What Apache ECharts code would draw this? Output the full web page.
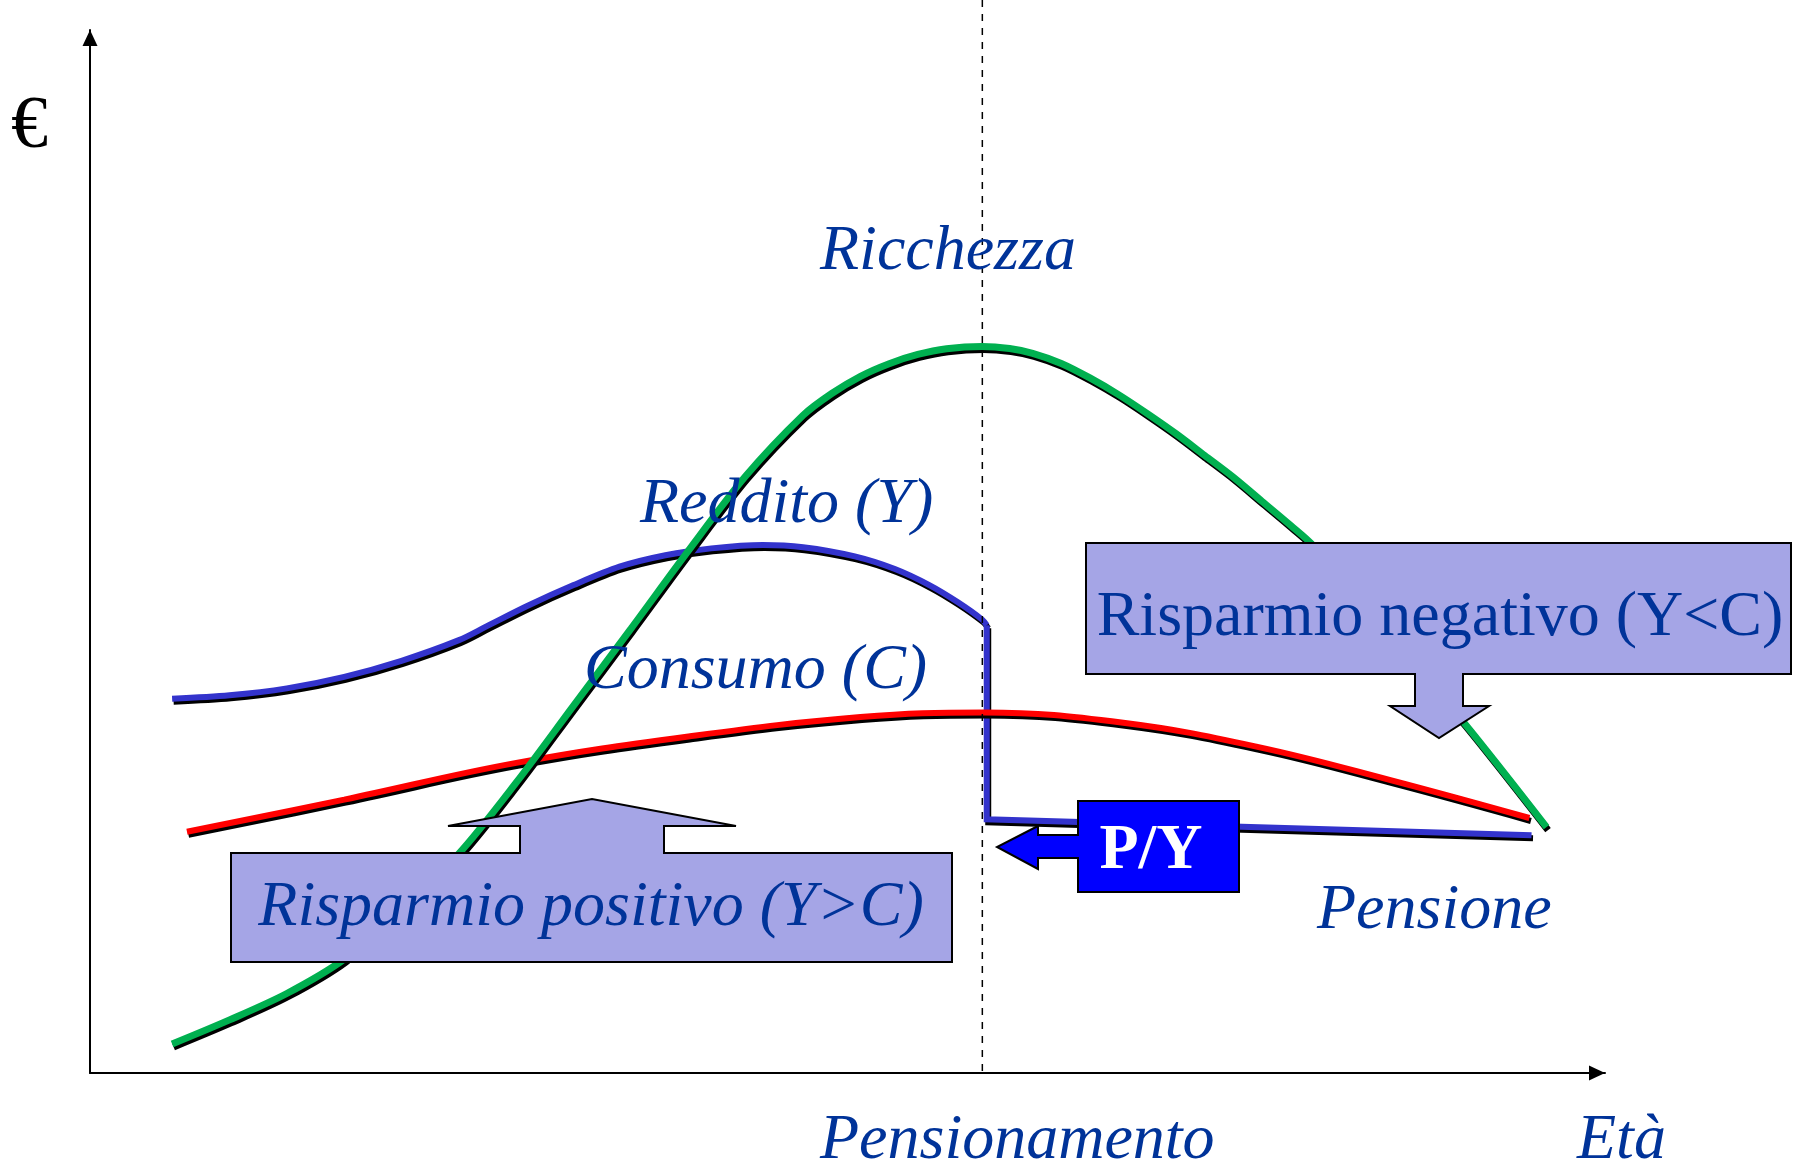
<!DOCTYPE html>
<html>
<head>
<meta charset="utf-8">
<script src="https://cdn.jsdelivr.net/npm/echarts@6/dist/echarts.min.js"></script>
<style>
  html, body { margin: 0; padding: 0; background: #fff; }
  #main { width: 1799px; height: 1163px; }
</style>
</head>
<body>
<div id="main"></div>
<script>
// dati: età e € su scala 0-100
const etaRicchezza = [5.42, 9.21, 12.99, 16.78, 20.56, 24.35, 28.14, 31.92, 35.71, 39.50, 43.28, 47.07, 48.96, 50.86, 52.75, 54.64, 56.54, 58.88, 60.70, 62.22, 64.11, 66.00, 67.89, 69.79, 71.68, 73.58, 75.47, 77.36, 79.25, 80.77, 84.93, 90.69, 96.14]
const ricchezza = [2.78, 5.09, 7.62, 10.92, 15.76, 21.04, 27.86, 35.23, 42.60, 50.08, 57.23, 63.06, 65.15, 66.80, 68.01, 68.89, 69.44, 69.66, 69.46, 69.00, 68.03, 66.64, 65.04, 63.22, 61.30, 59.21, 57.12, 54.81, 52.50, 50.52, 43.37, 33.58, 23.57]

const etaConsumo = [6.40, 16.78, 28.14, 39.50, 50.86, 59.03, 68.20, 77.06, 85.84, 95.01]
const consumo = [23.13, 26.21, 29.73, 32.26, 34.13, 34.57, 33.58, 31.27, 28.08, 24.45]

const etaReddito = [5.42, 9.21, 12.99, 16.78, 20.56, 24.35, 26.17, 28.89, 31.92, 34.95, 37.98, 41.01, 44.42, 47.07, 50.48, 53.13, 55.40, 57.29, 58.88, 59.19]
const reddito = [35.89, 36.22, 36.88, 37.98, 39.52, 41.50, 42.82, 44.80, 46.78, 48.54, 49.64, 50.30, 50.63, 50.41, 49.53, 48.32, 46.78, 45.13, 43.48, 42.93]

// dopo il pensionamento il reddito diventa pensione
const etaPensione = [59.19, 59.19, 95.15]
const pensione = [42.93, 24.33, 22.80]

const etaPensionamento = 58.9

const toPairs = (xs, ys) => xs.map((x, i) => [x, ys[i]])

const chart = echarts.init(document.getElementById('main'))

const shadow = { shadowColor: '#000', shadowBlur: 0, shadowOffsetX: 1.5, shadowOffsetY: 3 }
const blu = '#003399'
const serif = '"Liberation Serif", "Times New Roman", serif'

chart.setOption({
  animation: false,
  backgroundColor: '#fff',
  grid: { left: 90, right: 194, top: 30, bottom: 90 },
  xAxis: {
    type: 'value', min: 0, max: 100,
    axisLine: { show: true, lineStyle: { color: '#000', width: 2 }, symbol: ['none', 'triangle'], symbolSize: [15, 16], symbolOffset: [0, -8] },
    axisTick: { show: false }, axisLabel: { show: false }, splitLine: { show: false }
  },
  yAxis: {
    type: 'value', min: 0, max: 100,
    axisLine: { show: true, lineStyle: { color: '#000', width: 2 }, symbol: ['none', 'triangle'], symbolSize: [15, 16], symbolOffset: [0, -8] },
    axisTick: { show: false }, axisLabel: { show: false }, splitLine: { show: false }
  },
  series: [
    {
      name: 'Reddito', type: 'line', smooth: 0.3, showSymbol: false, z: 2,
      data: toPairs(etaReddito, reddito),
      lineStyle: Object.assign({ color: '#3333CC', width: 6 }, shadow)
    },
    {
      name: 'Pensione', type: 'line', smooth: false, showSymbol: false, z: 2,
      data: toPairs(etaPensione, pensione),
      lineStyle: Object.assign({ color: '#3333CC', width: 6, join: 'miter' }, shadow)
    },
    {
      name: 'Consumo', type: 'line', smooth: 0.4, showSymbol: false, z: 3,
      data: toPairs(etaConsumo, consumo),
      lineStyle: Object.assign({ color: '#FF0000', width: 6 }, shadow)
    },
    {
      name: 'Ricchezza', type: 'line', smooth: 0.3, showSymbol: false, z: 4,
      data: toPairs(etaRicchezza, ricchezza),
      lineStyle: Object.assign({ color: '#00B050', width: 7 }, shadow)
    }
  ]
})

// linea tratteggiata del pensionamento, fino al bordo alto
const base = chart.convertToPixel({ gridIndex: 0 }, [etaPensionamento, 0])

function testo(t, x, y, font, fill, align) {
  return {
    type: 'text', x: x, y: y, z: 30,
    style: { text: t, font: font, fill: fill, textAlign: align || 'left', textVerticalAlign: 'middle' }
  }
}

const lilla = '#A5A5E6'

chart.setOption({
  graphic: [
    {
      type: 'line', z: 8, silent: true,
      shape: { x1: base[0], y1: 0, x2: base[0], y2: base[1] },
      style: { stroke: '#000', lineWidth: 1.5, lineDash: [7, 7] }
    },
    {
      // risparmio positivo, freccia in alto
      type: 'polygon', z: 20,
      shape: { points: [[231, 962], [952, 962], [952, 853], [664, 853], [664, 826], [736, 826], [592, 799], [448, 826], [520, 826], [520, 853], [231, 853]] },
      style: { fill: lilla, stroke: '#000', lineWidth: 2 }
    },
    {
      // risparmio negativo, freccia in basso
      type: 'polygon', z: 20,
      shape: { points: [[1086, 543], [1791, 543], [1791, 674], [1463, 674], [1463, 706], [1489, 706], [1439, 738], [1390, 706], [1415, 706], [1415, 674], [1086, 674]] },
      style: { fill: lilla, stroke: '#000', lineWidth: 2 }
    },
    {
      // P/Y con freccia a sinistra
      type: 'polygon', z: 20,
      shape: { points: [[1239, 801], [1239, 892], [1078, 892], [1078, 858], [1038, 858], [1038, 869], [997, 847], [1038, 826], [1038, 835], [1078, 835], [1078, 801]] },
      style: { fill: '#0000FF', stroke: '#000', lineWidth: 2 }
    },
    testo('€', 11, 128, '74px ' + serif, '#000'),
    testo('Ricchezza', 820, 252, 'italic 64px ' + serif, blu),
    testo('Reddito (Y)', 640, 505, 'italic 64px ' + serif, blu),
    testo('Consumo (C)', 584, 671, 'italic 64px ' + serif, blu),
    testo('Pensione', 1317, 911, 'italic 64px ' + serif, blu),
    testo('Pensionamento', 820, 1141, 'italic 64px ' + serif, blu),
    testo('Età', 1577, 1141, 'italic 64px ' + serif, blu),
    testo('Risparmio positivo (Y>C)', 591, 908, 'italic 64px ' + serif, blu, 'center'),
    testo('Risparmio negativo (Y<C)', 1440, 618, '64px ' + serif, blu, 'center'),
    testo('P/Y', 1151, 851, 'bold 64px ' + serif, '#fff', 'center')
  ]
})
</script>
</body>
</html>
